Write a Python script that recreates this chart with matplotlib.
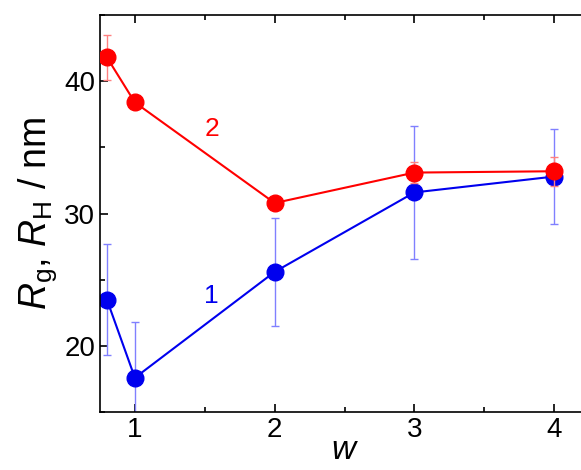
import matplotlib
matplotlib.use("Agg")
import matplotlib.pyplot as plt
from matplotlib.ticker import MultipleLocator

plt.rcParams['font.family'] = ['Liberation Sans', 'DejaVu Sans']
plt.rcParams['mathtext.fontset'] = 'custom'
plt.rcParams['mathtext.rm'] = 'Liberation Sans'
plt.rcParams['mathtext.it'] = 'Liberation Sans:italic'

w = [0.8, 1, 2, 3, 4]
r_red = [41.8, 38.4, 30.8, 33.1, 33.2]
err_red = [1.7, 0.5, 0.2, 0.8, 1.1]
r_blue = [23.5, 17.6, 25.6, 31.6, 32.8]
err_blue = [4.2, 4.2, 4.1, 5.0, 3.6]

fig = plt.figure(figsize=(5.81, 4.7), dpi=100)
ax = fig.add_axes([0.172, 0.123, 0.842, 0.845])

ax.errorbar(w, r_blue, yerr=err_blue, color='#0000ee', marker='o', ms=12, lw=1.5,
            ecolor='#8080ff', elinewidth=1, capsize=3, zorder=2)
ax.errorbar(w, r_red, yerr=err_red, color='#ff0000', marker='o', ms=12, lw=1.5,
            ecolor='#ff8080', elinewidth=1, capsize=3, zorder=3)
ax.text(1.55, 36.4, '2', color='#ff0000', fontsize=19, ha='center', va='center')
ax.text(1.55, 23.8, '1', color='#0000ee', fontsize=19, ha='center', va='center')

ax.set_xlim(0.75, 4.25)
ax.set_ylim(15, 45)
ax.xaxis.set_major_locator(MultipleLocator(1))
ax.xaxis.set_minor_locator(MultipleLocator(0.5))
ax.yaxis.set_major_locator(MultipleLocator(10))
ax.yaxis.set_minor_locator(MultipleLocator(5))
ax.tick_params(which='both', direction='in', top=True, labelsize=20, width=1.2)
ax.tick_params(which='major', length=6)
ax.tick_params(which='minor', length=3.5)
for s in ax.spines.values():
    s.set_linewidth(1.2)
ax.set_xlabel('$w$', fontsize=24, labelpad=-6)
ax.set_ylabel('$R_\\mathrm{g}$, $R_\\mathrm{H}$ / nm', fontsize=27, labelpad=4)

fig.savefig('out.png', dpi=100)
